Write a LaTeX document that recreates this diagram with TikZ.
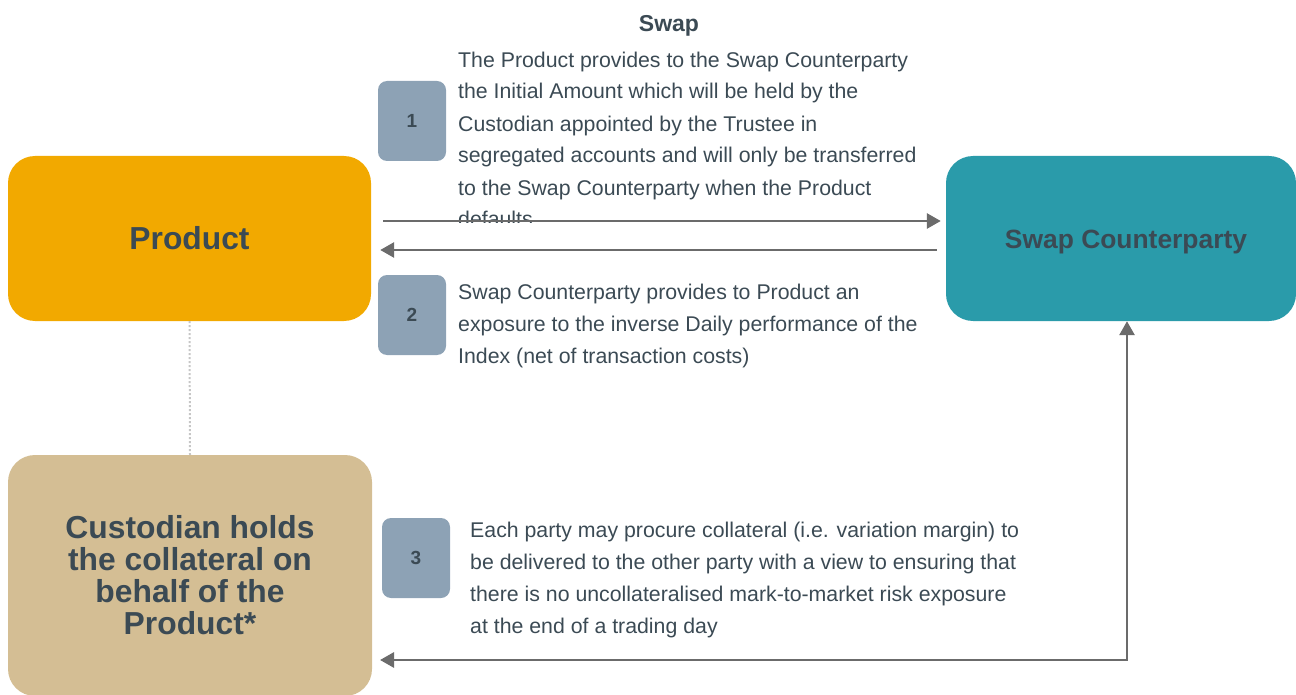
\documentclass[tikz,border=0pt]{standalone}
\usepackage{fontspec}
\setmainfont{Liberation Sans}
\usetikzlibrary{arrows.meta}
\definecolor{prodorange}{HTML}{F2A900}
\definecolor{swapteal}{HTML}{2A9BAA}
\definecolor{custtan}{HTML}{D4BE94}
\definecolor{numgray}{HTML}{8DA2B5}
\definecolor{slate}{HTML}{3B4A54}
\definecolor{arrowgray}{HTML}{6B6B6B}

\begin{document}
\begin{tikzpicture}[x=1pt, y=-1pt,
  party/.style={rounded corners=27pt, text=slate, font=\bfseries\fontsize{31.8}{32}\selectfont},
  stepnum/.style={fill=numgray, rounded corners=9pt, minimum width=68pt, minimum height=80pt,
    text=slate, font=\bfseries\fontsize{19}{22}\selectfont},
  note/.style={anchor=base west, align=left, inner sep=0pt, text=slate,
    font=\fontsize{21.3}{32}\selectfont},
  flow/.style={draw=arrowgray, line width=2.8pt, -{Triangle[length=14pt,width=15pt]}}]
  \clip (0,0) rectangle (1296,695);
  % the three parties
  \node[party, fill=prodorange, minimum width=363pt, minimum height=165pt] (prod) at (189.5,238.5) {Product};
  \node[party, fill=swapteal, minimum width=350pt, minimum height=165pt, text height=20pt, text depth=0pt,
    font=\bfseries\fontsize{26.4}{30}\selectfont] (swap) at (1121,238.5) {\hspace*{10pt}Swap Counterparty};
  \node[party, fill=custtan, minimum width=364pt, minimum height=241pt, align=center] (cust) at (190,575.5)
    {Custodian holds\\the collateral on\\behalf of the\\Product*};
  % numbered steps
  \foreach \n/\x/\y in {1/412/121, 2/412/315, 3/416/558}
    \node[stepnum] (num\n) at (\x,\y) {\n};
  % texts (anchored at the base of the last line)
  \node[text=slate, font=\bfseries\fontsize{23}{26}\selectfont] (title) at (669,26) {Swap};
  \begin{scope}
    \clip (440,0) rectangle (960,223);
    \node[note] (txta) at (458,227) {The Product provides to the Swap Counterparty\\
      the Initial Amount which will be held by the\\
      Custodian appointed by the Trustee in\\
      segregated accounts and will only be transferred\\
      to the Swap Counterparty when the Product\\
      defaults};
  \end{scope}
  \node[note] (txtb) at (458,363.5) {Swap Counterparty provides to Product an\\
    exposure to the inverse Daily performance of the\\
    Index (net of transaction costs)};
  \node[note] (txtc) at (470,633.5) {Each party may procure collateral (i.e. variation margin) to\\
    be delivered to the other party with a view to ensuring that\\
    there is no uncollateralised mark-to-market risk exposure\\
    at the end of a trading day};
  % connectors
  \draw[flow, shorten <=12pt, shorten >=5pt] ([yshift=17.5pt]prod.east) -- ([yshift=17.5pt]swap.west);
  \draw[flow, shorten <=9pt, shorten >=9pt] ([yshift=-11.5pt]swap.west) -- ([yshift=-11.5pt]prod.east);
  \coordinate (loopend) at (380,660);
  \draw[flow, {Triangle[length=14pt,width=15pt]}-{Triangle[length=14pt,width=15pt]}]
    (loopend) -| ([xshift=6pt]swap.south);
  \draw[gray!45, line width=2pt, dotted] (prod.south) -- (cust.north);
\end{tikzpicture}
\end{document}
